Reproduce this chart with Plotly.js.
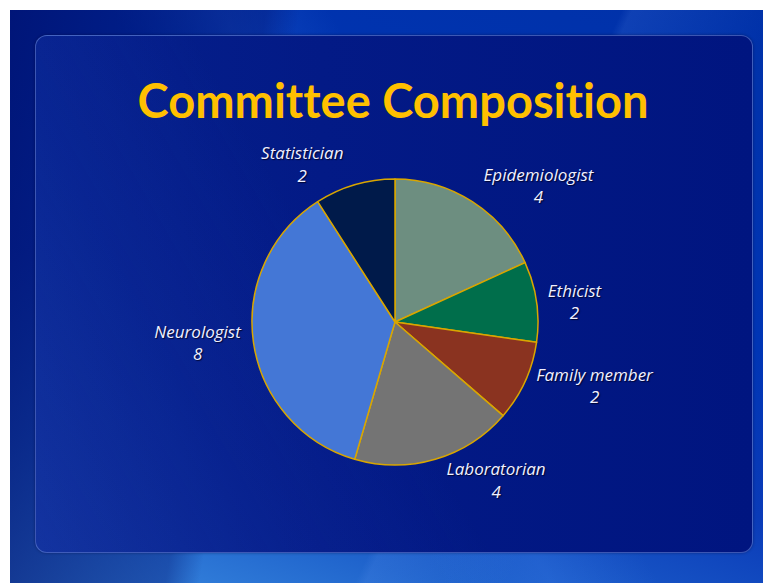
<!DOCTYPE html>
<html>
<head>
<meta charset="utf-8">
<script src="https://cdn.plot.ly/plotly-3.0.1.min.js"></script>
<style>
  html, body { margin:0; padding:0; background:#ffffff; width:763px; height:583px; overflow:hidden; }
  #slide { position:absolute; left:10px; top:10px; width:753px; height:573px;
    background:
      linear-gradient(115deg, rgba(255,255,255,0) 0%, rgba(255,255,255,0) 60%, rgba(120,170,255,0.12) 61%, rgba(255,255,255,0) 75%),
      linear-gradient(20deg, #3d8fe2 0%, #1f63cc 18%, #0a3bb8 40%, #0035b5 60%, #0031a8 100%);
  }
  #streak { position:absolute; left:10px; top:10px; width:753px; height:573px;
    background:
      linear-gradient(100deg, rgba(0,16,110,0.85) 0%, rgba(0,16,110,0.4) 30%, rgba(0,0,0,0) 34%),
      linear-gradient(60deg, rgba(0,0,0,0) 40%, rgba(80,150,255,0.18) 50%, rgba(0,0,0,0) 60%);
  }
  #panel { position:absolute; left:35px; top:35px; width:716px; height:516px; border-radius:12px;
    border:1.5px solid rgba(110,140,220,0.55);
    background:
      linear-gradient(60deg, rgba(60,110,220,0.25) 0%, rgba(40,80,200,0.12) 25%, rgba(0,0,0,0) 45%),
      linear-gradient(90deg, #05208c 0%, #031a86 40%, #001580 100%);
    box-shadow: 0 0 3px rgba(0,0,40,0.4);
  }
  #chart { position:absolute; left:0; top:0; width:763px; height:583px; }
  #chart text { font-variant-ligatures: none !important; }
</style>
</head>
<body>
<div id="slide"></div>
<div id="streak"></div>
<div id="panel"></div>
<div id="chart"></div>
<script>
const categories = ["Epidemiologist", "Ethicist", "Family member", "Laboratorian", "Neurologist", "Statistician"];
const members = [4, 2, 2, 4, 8, 2];
const sliceColors = ["#6d8e80", "#006e4b", "#8a3320", "#747474", "#4477d6", "#001a4a"];

const W = 763, H = 583;
const cx = 395, cy = 322, r = 143;

const labelFont = { family: "'Open Sans', sans-serif", size: 17, color: "#f0f0ff", style: "italic",
                    shadow: "1px 1px 1px rgba(0,0,30,0.8)" };

const trace = {
  type: "pie",
  labels: categories,
  values: members,
  sort: false,
  direction: "clockwise",
  rotation: 0,
  marker: { colors: sliceColors, line: { color: "#d9a600", width: 1.5 } },
  textposition: "outside",
  texttemplate: "%{label}<br>%{value}",
  textfont: labelFont,
  outsidetextfont: labelFont,
  domain: { x: [(cx - r) / W, (cx + r) / W], y: [(H - cy - r) / H, (H - cy + r) / H] },
  hoverinfo: "label+value",
  showlegend: false
};

const layout = {
  width: W, height: H,
  margin: { l: 0, r: 0, t: 0, b: 0 },
  paper_bgcolor: "rgba(0,0,0,0)",
  plot_bgcolor: "rgba(0,0,0,0)",
  showlegend: false,
  title: {
    text: "Committee Composition",
    font: { family: "Lato, 'Open Sans', sans-serif", size: 47, color: "#ffc000", weight: "bold" },
    x: 393 / W, xanchor: "center",
    y: 1 - 102 / H, yanchor: "middle", yref: "container"
  }
};

Plotly.newPlot("chart", [trace], layout, { displayModeBar: false, staticPlot: true });
</script>
</body>
</html>
